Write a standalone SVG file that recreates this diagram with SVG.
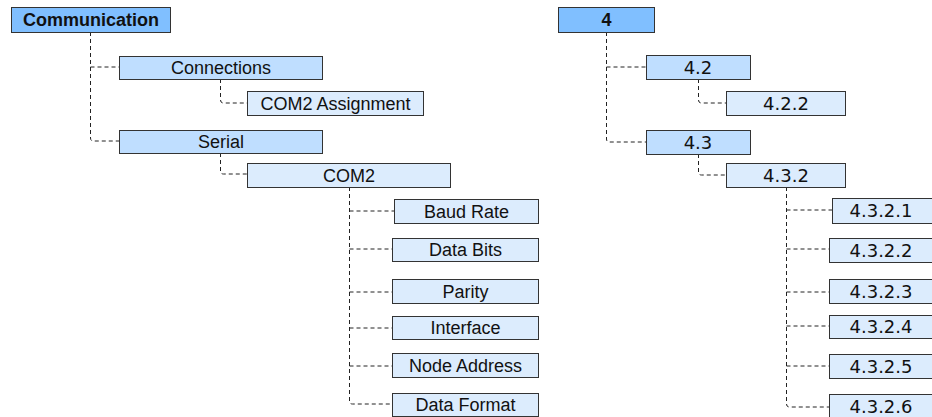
<svg xmlns="http://www.w3.org/2000/svg" width="932" height="417" viewBox="0 0 932 417">
<style>
rect{stroke:#333;stroke-width:1}
.l1{fill:#80bfff}
.l2{fill:#bfdeff}
.l3{fill:#dcecfd}
text{font-size:18px;fill:#111;text-anchor:middle}
.L{font-family:"Liberation Sans",Arial,sans-serif}
.R{font-family:"DejaVu Sans",Verdana,sans-serif}
.b{font-weight:bold}
#connectors path{fill:none;stroke:#222;stroke-width:1;stroke-dasharray:4 3}
</style>
<rect width="932" height="417" fill="#fff" style="stroke:none"/>
<g id="connectors">
<path d="M90.5 32 V138 Q90.5 141 93.5 141 H119"/>
<path d="M90.5 67 H119"/>
<path d="M220.5 79 V100 Q220.5 103 223.5 103 H247"/>
<path d="M220.5 153 V171 Q220.5 174 223.5 174 H247"/>
<path d="M349.5 187 V401 Q349.5 404 352.5 404 H392"/>
<path d="M349.5 211 H394"/>
<path d="M349.5 249 H392"/>
<path d="M349.5 292 H392"/>
<path d="M349.5 328 H392"/>
<path d="M349.5 366 H392"/>
<path d="M606.5 32 V139 Q606.5 142 609.5 142 H646"/>
<path d="M606.5 67 H646"/>
<path d="M698.5 79 V100 Q698.5 103 701.5 103 H726"/>
<path d="M698.5 154 V172 Q698.5 175 701.5 175 H726"/>
<path d="M786.5 187 V404 Q786.5 407 789.5 407 H829"/>
<path d="M786.5 210 H832"/>
<path d="M786.5 249 H829"/>
<path d="M786.5 292 H829"/>
<path d="M786.5 326 H829"/>
<path d="M786.5 366 H829"/>
</g>
<g id="communication"><rect class="l1" x="11.5" y="7.5" width="159" height="25"/><text class="L b" x="91" y="26">Communication</text></g>
<g id="connections"><rect class="l2" x="119.5" y="56.5" width="203" height="23"/><text class="L" x="221" y="74">Connections</text></g>
<g id="com2assign"><rect class="l3" x="247.5" y="91.5" width="176" height="24"/><text class="L" x="335.5" y="109.5">COM2 Assignment</text></g>
<g id="serial"><rect class="l2" x="119.5" y="130.5" width="203" height="23"/><text class="L" x="221" y="148">Serial</text></g>
<g id="com2"><rect class="l3" x="247.5" y="163.5" width="203" height="24"/><text class="L" x="349" y="181.5">COM2</text></g>
<g id="baud"><rect class="l3" x="394.5" y="199.5" width="144" height="24"/><text class="L" x="466.5" y="217.5">Baud Rate</text></g>
<g id="databits"><rect class="l3" x="392.5" y="238.5" width="146" height="23"/><text class="L" x="465.5" y="256">Data Bits</text></g>
<g id="parity"><rect class="l3" x="392.5" y="279.5" width="146" height="24"/><text class="L" x="465.5" y="297.5">Parity</text></g>
<g id="interface"><rect class="l3" x="392.5" y="316.5" width="146" height="23"/><text class="L" x="465.5" y="334">Interface</text></g>
<g id="nodeaddr"><rect class="l3" x="392.5" y="353.5" width="146" height="24"/><text class="L" x="465.5" y="371.5">Node Address</text></g>
<g id="dataformat"><rect class="l3" x="392.5" y="393.5" width="146" height="23"/><text class="L" x="465.5" y="411">Data Format</text></g>
<g id="n4"><rect class="l1" x="558.5" y="7.5" width="96" height="25"/><text class="L b" x="606.5" y="26">4</text></g>
<g id="n42"><rect class="l2" x="646.5" y="55.5" width="104" height="24"/><text class="R" x="698" y="73.5">4.2</text></g>
<g id="n422"><rect class="l3" x="726.5" y="91.5" width="119" height="24"/><text class="R" x="786" y="109.5">4.2.2</text></g>
<g id="n43"><rect class="l2" x="646.5" y="130.5" width="104" height="24"/><text class="R" x="698" y="148.5">4.3</text></g>
<g id="n432"><rect class="l3" x="726.5" y="163.5" width="119" height="24"/><text class="R" x="786" y="181.5">4.3.2</text></g>
<g id="n4321"><rect class="l3" x="832.5" y="198.5" width="104" height="25"/><text class="R" x="881" y="216.5">4.3.2.1</text></g>
<g id="n4322"><rect class="l3" x="829.5" y="238.5" width="107" height="24"/><text class="R" x="881" y="256.5">4.3.2.2</text></g>
<g id="n4323"><rect class="l3" x="829.5" y="279.5" width="107" height="24"/><text class="R" x="881" y="297.5">4.3.2.3</text></g>
<g id="n4324"><rect class="l3" x="829.5" y="315.5" width="107" height="23"/><text class="R" x="881" y="333">4.3.2.4</text></g>
<g id="n4325"><rect class="l3" x="829.5" y="354.5" width="107" height="24"/><text class="R" x="881" y="372.5">4.3.2.5</text></g>
<g id="n4326"><rect class="l3" x="829.5" y="394.5" width="107" height="24"/><text class="R" x="881" y="412.5">4.3.2.6</text></g>
</svg>
